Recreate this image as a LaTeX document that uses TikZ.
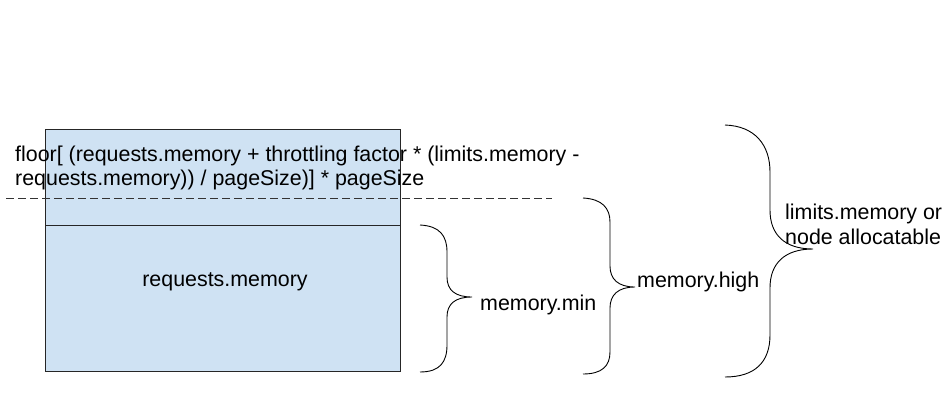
\documentclass[tikz,border=0pt]{standalone}
\usepackage{fontspec}
\setmainfont{Liberation Sans}
\definecolor{boxblue}{HTML}{CFE2F3}
\begin{document}
\begin{tikzpicture}[x=1pt,y=-1pt,
  lbl/.style={inner sep=0pt,font=\fontsize{21.4}{24}\selectfont,text=black},
  brace/.style={draw=black,line width=0.9pt},
  dline/.style={draw=black!80,line width=0.8pt,dash pattern=on 8pt off 4pt}]
\useasboundingbox (0,0) rectangle (943,410);
% box
\node[draw=black!85,line width=0.9pt,fill=boxblue,minimum width=355pt,minimum height=242pt,inner sep=0pt,anchor=north west] (box) at (45,129) {};
\coordinate (divL) at (45,225);
\coordinate (divR) at (400,225);
\draw[line width=0.9pt,black!85] (divL) -- (divR);
\node[lbl] (req) at (225,282) {requests.memory};
% dashed line
\coordinate (dashL) at (6,198);
\coordinate (dashR) at (552,198);
\draw[dline] (dashL) -- (dashR);
\node[lbl,anchor=west,align=left] (floor) at (15,167.5) {floor[ (requests.memory + throttling factor * (limits.memory -\\requests.memory)) / pageSize)] * pageSize};
% braces
\draw[brace] (420,225) .. controls (440,226) and (447,236) .. (447,252) -- (447,277) .. controls (447,290) and (455,297) .. (472,297) coordinate (tip1) .. controls (455,297) and (447,304) .. (447,317) -- (447,345) .. controls (447,362) and (440,372) .. (420,372);
\draw[brace] (583,198) .. controls (602,199) and (610,208) .. (610,222) -- (610,266) .. controls (610,279) and (618,287) .. (635,287) coordinate (tip2) .. controls (618,287) and (610,295) .. (610,308) -- (610,352) .. controls (610,366) and (602,374) .. (583,374);
\draw[brace] (725,125) .. controls (755,126) and (770,145) .. (770,172) -- (770,210) .. controls (770,235) and (785,249) .. (813,249) coordinate (tip3) .. controls (785,249) and (770,263) .. (770,288) -- (770,335) .. controls (770,362) and (755,377) .. (725,377);
\node[lbl,anchor=west] (mmin) at (480,305) {memory.min};
\node[lbl,anchor=west] (mhigh) at (637,282) {memory.high};
\node[lbl,anchor=west,align=left,font=\fontsize{21.4}{25}\selectfont] (mlim) at (785,224.5) {limits.memory or\\node allocatable};
\end{tikzpicture}
\end{document}
